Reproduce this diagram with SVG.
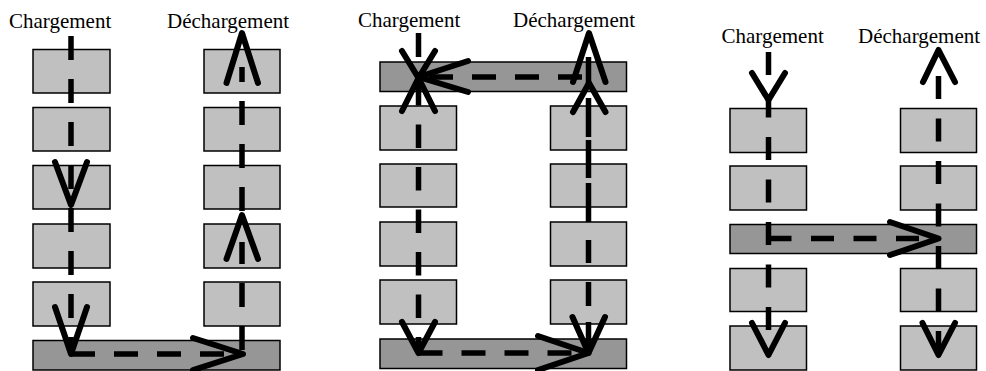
<svg xmlns="http://www.w3.org/2000/svg" width="986" height="371" viewBox="0 0 986 371">
<style>
.box{fill:#c0c0c0;stroke:#000;stroke-width:1.5}
.bar{fill:#969696;stroke:#000;stroke-width:1.5}
.flow{fill:none;stroke:#000;stroke-width:5.5;stroke-dasharray:24 19}
.flow3{fill:none;stroke:#000;stroke-width:5.5;stroke-dasharray:23 19.5}
.solid{fill:none;stroke:#000;stroke-width:5.5}
.head{fill:none;stroke:#000;stroke-width:6;stroke-linecap:round;stroke-linejoin:round}
.lbl{font-family:"Liberation Serif","Times New Roman",serif;font-size:21px;fill:#000}
</style>
<rect width="986" height="371" fill="#fff"/>
<!-- Panel 1 -->
<g id="p1-l1"><rect class="box" x="33" y="49.5" width="77" height="43.5"/></g>
<g id="p1-l2"><rect class="box" x="33" y="107.5" width="77" height="43.5"/></g>
<g id="p1-l3"><rect class="box" x="33" y="165.5" width="77" height="43.5"/></g>
<g id="p1-l4"><rect class="box" x="33" y="224" width="77" height="44"/></g>
<g id="p1-l5"><rect class="box" x="33" y="282" width="77" height="44"/></g>
<g id="p1-r1"><rect class="box" x="204" y="49.5" width="76" height="43.5"/></g>
<g id="p1-r2"><rect class="box" x="204" y="107.5" width="76" height="43.5"/></g>
<g id="p1-r3"><rect class="box" x="204" y="165.5" width="76" height="43.5"/></g>
<g id="p1-r4"><rect class="box" x="204" y="224" width="76" height="44"/></g>
<g id="p1-r5"><rect class="box" x="204" y="282" width="76" height="44"/></g>
<g id="p1-bar"><rect class="bar" x="33" y="340.5" width="247" height="29.5"/></g>
<g id="p1-in"><text class="lbl" x="9" y="27.5">Chargement</text></g>
<g id="p1-out"><text class="lbl" x="167" y="27.5">Déchargement</text></g>
<!-- Panel 2 -->
<g id="p2-top"><rect class="bar" x="380" y="62" width="246.5" height="29.5"/></g>
<g id="p2-l1"><rect class="box" x="380" y="106" width="76.5" height="44"/></g>
<g id="p2-l2"><rect class="box" x="380" y="164" width="76.5" height="43"/></g>
<g id="p2-l3"><rect class="box" x="380" y="222" width="76.5" height="44"/></g>
<g id="p2-l4"><rect class="box" x="380" y="280" width="76.5" height="44"/></g>
<g id="p2-r1"><rect class="box" x="550.5" y="106" width="76" height="44"/></g>
<g id="p2-r2"><rect class="box" x="550.5" y="164" width="76" height="43"/></g>
<g id="p2-r3"><rect class="box" x="550.5" y="222" width="76" height="44"/></g>
<g id="p2-r4"><rect class="box" x="550.5" y="280" width="76" height="44"/></g>
<g id="p2-bot"><rect class="bar" x="380" y="339" width="246.5" height="29.5"/></g>
<g id="p2-in"><text class="lbl" x="358" y="26.5">Chargement</text></g>
<g id="p2-out"><text class="lbl" x="513" y="26.5">Déchargement</text></g>
<!-- Panel 3 -->
<g id="p3-l1"><rect class="box" x="730" y="108.5" width="76.5" height="44"/></g>
<g id="p3-l2"><rect class="box" x="730" y="166" width="76.5" height="44"/></g>
<g id="p3-bar"><rect class="bar" x="730" y="224.5" width="246.5" height="29"/></g>
<g id="p3-l3"><rect class="box" x="730" y="268.5" width="76.5" height="43"/></g>
<g id="p3-l4"><rect class="box" x="730" y="326" width="76.5" height="44"/></g>
<g id="p3-r1"><rect class="box" x="900.5" y="108.5" width="76" height="44"/></g>
<g id="p3-r2"><rect class="box" x="900.5" y="166" width="76" height="44"/></g>
<g id="p3-r3"><rect class="box" x="900.5" y="268.5" width="76" height="43"/></g>
<g id="p3-r4"><rect class="box" x="900.5" y="326" width="76" height="44"/></g>
<g id="p3-in"><text class="lbl" x="721.5" y="42.5">Chargement</text></g>
<g id="p3-out"><text class="lbl" x="858" y="42.5">Déchargement</text></g>
<!-- Connectors -->
<g id="connectors">
  <!-- panel 1 -->
  <path class="flow" d="M71,36 V205"/>
  <path class="flow" d="M71,208 V354"/>
  <path class="flow" d="M71,354 H240"/>
  <path class="flow" d="M242,350 V242"/>
  <path class="flow" d="M242,211 V67"/>
  <path class="head" d="M55,162 L71,205 L87,162"/>
  <path class="head" d="M55,307 L71,354 L87,307"/>
  <path class="head" d="M193,338 L243,354 L193,370"/>
  <path class="head" d="M226.5,259 L242,215 L258,259"/>
  <path class="head" d="M226.5,83 L242,33 L258,83"/>
  <!-- panel 2 -->
  <path class="flow" d="M418.5,33 V78"/>
  <path class="flow" style="stroke-dasharray:23.5 19" d="M418.5,82 V353"/>
  <path class="flow" d="M582,77 H420"/>
  <path class="flow" d="M418.5,353 H585"/>
  <path class="solid" d="M588.5,57 V85 M588.5,98 V137 M588.5,140 V178 M588.5,183 V222 M588.5,240 V263 M588.5,282 V306 M588.5,322 V353"/>
  <path class="head" d="M402,51 L418.5,78 L435,51"/>
  <path class="head" d="M402,111 L418.5,78 L435,111"/>
  <path class="head" d="M468,61 L418.5,77 L468,92"/>
  <path class="head" d="M402,322 L418.5,353 L435,322"/>
  <path class="head" d="M538,336 L588.5,353 L538,370"/>
  <path class="head" d="M572.5,317 L588.5,353 L605,317"/>
  <path class="head" d="M573,82 L589,33 L605.5,82"/>
  <path class="head" d="M573,112 L589,83 L605.5,112"/>
  <!-- panel 3 -->
  <path class="flow3" d="M768.5,52 V355"/>
  <path class="flow3" d="M768.5,238.5 H936"/>
  <path class="flow3" d="M938.5,76 V355"/>
  <path class="head" d="M752,73 L768.5,100 L785,73"/>
  <path class="head" d="M752,323 L768.5,355 L785,323"/>
  <path class="head" d="M890,222 L938.5,238.5 L890,255"/>
  <path class="head" d="M923,82 L938.5,50 L955,82"/>
  <path class="head" d="M922.5,323 L938.5,355 L955,323"/>
</g>
</svg>
